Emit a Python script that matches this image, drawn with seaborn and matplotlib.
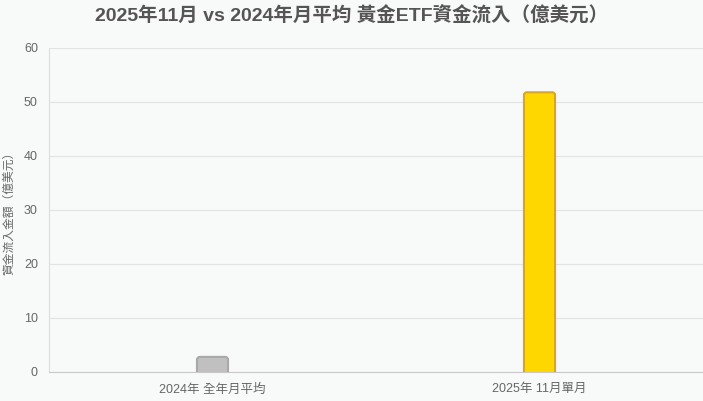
import matplotlib
matplotlib.use("Agg")
import matplotlib.pyplot as plt
import seaborn as sns
import pandas as pd
from matplotlib.patches import FancyBboxPatch

categories = ["2024年 全年月平均", "2025年 11月單月"]
values = [2.8, 51.8]
fill_colors = ["#c0c0c0", "#ffd700"]
edge_colors = ["#a9a9a9", "#daa520"]
yticks = [0, 10, 20, 30, 40, 50, 60]

sns.set_theme(style="whitegrid")
plt.rcParams['font.family'] = ['Liberation Sans', 'Noto Sans CJK TC', 'DejaVu Sans']

bg = "#f8f9f9"
fig = plt.figure(figsize=(7.03, 4.01), dpi=100, facecolor=bg)
ax = fig.add_axes([49/703, 29/401, 654/703, 324/401], facecolor=bg)

df = pd.DataFrame({"cat": categories, "val": values})
sns.barplot(data=df, x="cat", y="val", hue="cat", palette=fill_colors,
            width=0.095, legend=False, ax=ax, saturation=1)

ax.set_ylim(0, 60)
ax.set_xlim(-0.5, 1.5)

# replace bars with rounded-top versions
patches = list(ax.patches)
for p, fc, ec in zip(patches, fill_colors, edge_colors):
    x0, w = p.get_x(), p.get_width()
    h = p.get_height()
    p.remove()
    ext = 1.0
    rp = FancyBboxPatch((x0, -ext), w, h + ext,
                        boxstyle="round,pad=0,rounding_size=0.009",
                        mutation_aspect=60.5, facecolor=fc, edgecolor=ec,
                        linewidth=1.5, zorder=3, clip_on=True)
    ax.add_patch(rp)

ax.set_yticks(yticks)
ax.set_xticks([0, 1])
ax.set_xticklabels(categories)
ax.yaxis.grid(True, color="#e3e3e3", linewidth=0.8)
ax.xaxis.grid(False)

for s in ["top", "right"]:
    ax.spines[s].set_visible(False)
ax.spines["left"].set_color("#dcdcdc")
ax.spines["bottom"].set_color("#c8c8c8")
ax.spines["left"].set_linewidth(0.8)
ax.spines["bottom"].set_linewidth(0.8)

ax.tick_params(axis="both", colors="#666666", labelsize=9, length=5, width=0.8)
ax.tick_params(axis="x", length=0, pad=8)
ax.tick_params(axis="y", color="#dcdcdc", pad=3)
for t in ax.get_yticklabels() + ax.get_xticklabels():
    t.set_color("#666666")

ax.set_xlabel("")
ax.set_ylabel("資金流入金額（億美元）", color="#666666", fontsize=8.5)
ax.yaxis.set_label_coords(-0.052, 0.5)

fig.suptitle("2025年11月 vs 2024年月平均 黃金ETF資金流入（億美元）",
             x=0.5, y=0.985, fontsize=14, fontweight="bold", color="#555555")

fig.savefig("out.png", dpi=100, facecolor=bg)
